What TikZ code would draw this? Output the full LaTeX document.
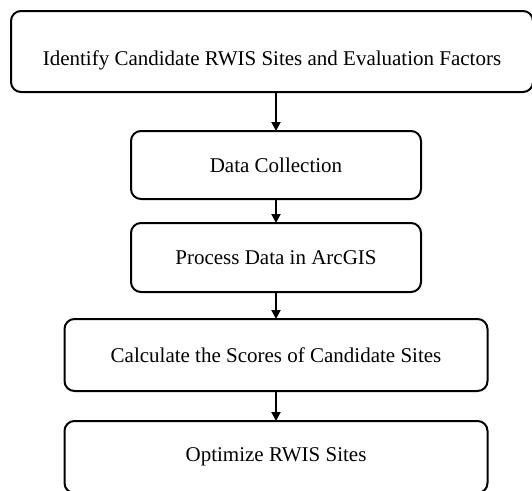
\documentclass[tikz,border=0pt]{standalone}
\usepackage{fontspec}
\setmainfont{Liberation Serif}
\usetikzlibrary{arrows.meta}

\begin{document}
\begin{tikzpicture}[x=1pt,y=-1pt,font=\fontsize{21}{25}\selectfont,
  stepbox/.style={draw=black,line width=2pt,rounded corners=10pt,inner sep=0pt,outer sep=0pt,align=center},
  flow/.style={line width=2pt,-{Triangle[length=9pt,width=9pt]}}]
\useasboundingbox (0,0) rectangle (532,490);
\clip (0,0) rectangle (532,490);
\fill[white] (0,0) rectangle (532,490);
\node[stepbox,minimum width=522pt,minimum height=81pt,text height=33pt] (identify) at (272,51.5) {Identify Candidate RWIS Sites and Evaluation Factors};
\node[stepbox,minimum width=290pt,minimum height=68pt] (collect) at (276,165) {Data Collection};
\node[stepbox,minimum width=290pt,minimum height=69pt] (process) at (276,257.5) {Process Data in ArcGIS};
\node[stepbox,minimum width=423pt,minimum height=72pt] (score) at (276,355) {Calculate the Scores of Candidate Sites};
\node[stepbox,minimum width=423pt,minimum height=72pt] (optimize) at (276,457) {Optimize RWIS Sites};
\draw[flow] (identify.south -| collect.north) -- (collect.north);
\draw[flow] (collect) -- (process);
\draw[flow] (process) -- (score);
\draw[flow] (score) -- (optimize);
\end{tikzpicture}
\end{document}
